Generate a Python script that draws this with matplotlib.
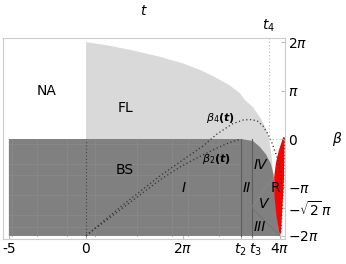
import numpy as np
import matplotlib
matplotlib.use("Agg")
import matplotlib.pyplot as plt
import matplotlib.transforms as mtrans

PI = np.pi

# valores clave del eje t
t2 = 10.04
t3 = 10.72
t4 = 11.83

# frontera superior de la region FL (t, beta)
fl_t = [0.0, 1.5, 3.04, 4.7, 6.28, 7.5, 8.48, 9.3, 9.97, 10.30, 10.82, 10.95, 11.38, 11.70, 11.87, 12.01, 12.11, 12.21]
fl_b = [6.28, 6.05, 5.74, 5.35, 4.90, 4.43, 3.94, 3.48, 2.97, 2.52, 2.06, 1.87, 1.23, 0.58, -0.06, -1.03, -2.0, -2.97]

# frontera derecha de la region oscura (BS, I, II, ...)
bs_t = [10.04, 10.82, 11.27, 11.66, 11.98, 12.15, 12.22, 12.26, 12.38, 12.53, 12.566]
bs_b = [0.0, -0.13, -0.52, -1.0, -1.61, -2.32, -2.97, -3.72, -5.01, -6.08, -6.283]

# region R (roja): borde izquierdo y borde derecho
r_izq_t = [12.78, 12.50, 12.30, 12.19, 12.21, 12.34, 12.52, 12.56]
r_izq_b = [0.13, -0.71, -1.57, -2.43, -3.72, -5.01, -6.08, -6.26]
r_der_t = [12.63, 12.70, 12.82, 12.86]
r_der_b = [-6.06, -4.77, -2.65, 0.13]

# curvas punteadas beta_4(t) y beta_2(t)
b4_t = [0.0, 2.40, 4.79, 6.28, 7.58, 8.48, 9.46, 10.17, 10.62, 11.08, 11.46, 11.79, 12.05, 12.37, 12.56, 12.66]
b4_b = [-6.26, -4.26, -2.39, -1.35, -0.45, 0.32, 0.97, 1.23, 1.26, 1.19, 0.84, 0.32, -0.26, -1.16, -1.99, -2.97]
b2_t = [0.0, 2.40, 4.79, 6.09, 7.38, 8.35, 9.00, 9.52, 10.04]
b2_b = [-6.26, -4.45, -2.65, -1.81, -1.13, -0.65, -0.35, -0.16, 0.0]

# lineas de malla tenues dentro de BS
malla_t = [-4.8, -3.2, -1.25, 0.6, 3.3, 5.6, 6.6, 8.6]
malla_b = [-0.3, -1.6, -2.3, -3.6, -4.9, -5.7]

# ticks
xticks = [-5, 0, 2 * PI, t2, t3, 4 * PI]
xlabels = ["-5", r"$0$", r"$2\pi$", r"$t_2$", r"$t_3$", r"$4\pi$"]
yticks = [2 * PI, PI, 0, -PI, -np.sqrt(2) * PI, -2 * PI]
ylabels = [r"$2\pi$", r"$\pi$", r"$0$", r"$-\pi$", r"$-\sqrt{2}\,\pi$", r"$-2\pi$"]

# etiquetas de regiones: (texto, t, beta, estilo)
regiones = [
    ("NA", -2.55, 3.12, "normal"),
    ("FL", 2.53, 1.98, "normal"),
    ("BS", 2.53, -2.02, "normal"),
    ("I", 6.30, -3.16, "italic"),
    ("II", 10.41, -3.16, "italic"),
    ("IV", 11.27, -1.66, "italic"),
    ("V", 11.48, -4.24, "italic"),
    ("III", 11.27, -5.68, "italic"),
    ("R", 12.24, -3.2, "normal"),
]

# =============================================================================
# Figura
# =============================================================================
fig = plt.figure(figsize=(3.46, 2.64), dpi=100)
ax = fig.add_axes([0.0087, 0.0947, 0.815, 0.761])
ax.set_xlim(-5.38, 12.89)
ax.set_ylim(-6.48, 6.54)

gris_claro = "#d9d9d9"
gris_osc = "#808080"

# region FL (se dibuja primero, la oscura la tapa abajo)
ax.fill([0.0] + fl_t + [0.0], [0.0] + fl_b + [fl_b[-1]], color=gris_claro, lw=0, zorder=1)

# region oscura
ax.fill([-5, -5] + bs_t, [-2 * PI, 0] + bs_b, facecolor=gris_osc, edgecolor="none",
        lw=0, zorder=2)
for tm in malla_t:
    ax.plot([tm, tm], [-2 * PI, 0], color="#8b8b8b", lw=0.5, zorder=2.1)
for bm in malla_b:
    ax.plot([-5, t2], [bm, bm], color="#8b8b8b", lw=0.5, zorder=2.1)

# subdivisiones I..V
ax.plot([t2, t2], [-2 * PI, 0], color="#5e5e5e", lw=0.8, zorder=2.5)
ax.plot([t3, t3], [-2 * PI, -0.02], color="#5e5e5e", lw=0.8, zorder=2.5)
ax.plot([t3, 4 * PI], [-np.sqrt(2) * PI, -2 * PI], color="#707070", lw=0.5, zorder=2.5)
ax.plot([t3, 12.1], [-np.sqrt(2) * PI, -2.5], color="#8a8a8a", lw=0.5, zorder=2.5)

# region R
ax.fill(r_izq_t + r_der_t, r_izq_b + r_der_b, color="red", lw=0, zorder=3)

# lineas punteadas
ax.plot(b4_t, b4_b, color="#333333", lw=0.9, ls=(0, (1, 2)), zorder=4)
ax.plot(b2_t, b2_b, color="#333333", lw=0.9, ls=(0, (1, 2)), zorder=4)
ax.plot([0, 0], [-2 * PI, 0], color="#444444", lw=0.8, ls=(0, (1, 2)), zorder=4)
ax.plot(r_der_t, r_der_b, color="#444444", lw=0.8, ls=(0, (1, 2)), zorder=4)
ax.plot([t4, t4], [0, 6.54], color="#bbbbbb", lw=0.8, ls=(0, (1, 2)), zorder=4)
ax.plot([t4, 12.84], [0, 0], color="#bbbbbb", lw=0.8, ls=(0, (1, 2)), zorder=4)

for texto, tt, bb, estilo in regiones:
    ax.text(tt, bb, texto, ha="center", va="center", fontsize=10, style=estilo, zorder=5)
ax.text(8.74, 1.35, r"$\boldsymbol{\beta_4(t)}$", ha="center", va="center", fontsize=8, zorder=5)
ax.text(8.48, -1.29, r"$\boldsymbol{\beta_2(t)}$", ha="center", va="center", fontsize=8, zorder=5)

# ejes y ticks
for lado in ax.spines.values():
    lado.set_color("#cccccc")
    lado.set_linewidth(0.8)
ax.set_xticks(xticks, labels=xlabels)
ax.set_yticks(yticks, labels=ylabels)
ax.yaxis.tick_right()
ax.tick_params(axis="both", direction="in", length=3, color="#bbbbbb", labelsize=10, pad=2)

# t3 un poco a la derecha para que no choque con t2
etq_t3 = ax.get_xticklabels()[4]
etq_t3.set_transform(etq_t3.get_transform() + mtrans.ScaledTranslation(4 / 100, 0, fig.dpi_scale_trans))
etq_t2 = ax.get_xticklabels()[3]
etq_t2.set_transform(etq_t2.get_transform() + mtrans.ScaledTranslation(-1 / 100, 0, fig.dpi_scale_trans))

ax.text(1.185, 0.5, r"$\beta$", transform=ax.transAxes, ha="center", va="center", fontsize=10)

arriba = ax.secondary_xaxis("top")
arriba.set_xticks([t4], labels=[r"$t_4$"])
arriba.tick_params(direction="in", length=0, labelsize=10, pad=3)
arriba.spines["top"].set_visible(False)
fig.text(144 / 346, 1 - 11 / 264, r"$t$", ha="center", va="center", fontsize=10)

fig.savefig("out.png", dpi=100)
